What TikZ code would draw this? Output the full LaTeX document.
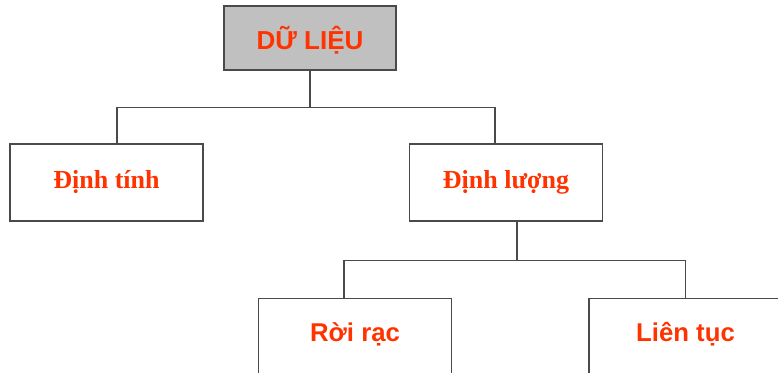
\documentclass[tikz,border=0pt]{standalone}
\usepackage{fontspec}
\setmainfont{Liberation Serif}
\setsansfont{Liberation Sans}
\usepackage{tikz}
\usetikzlibrary{positioning, calc}
\definecolor{textred}{HTML}{FF3300}
\definecolor{boxgray}{HTML}{C0C0C0}
\definecolor{linegray}{HTML}{4A4A4A}

\begin{document}
\begin{tikzpicture}[x=0.75pt, y=-0.75pt,
  box/.style={draw=linegray, line width=0.8pt, minimum width=144.75pt, minimum height=57.75pt,
    inner sep=0pt, text=textred},
  serifbox/.style={box, font=\bfseries\fontsize{19.5}{22}\selectfont, text height=14pt, text depth=5.6pt},
  sansbox/.style={box, font=\sffamily\bfseries\fontsize{19.3}{22}\selectfont, text height=14.5pt, text depth=8.5pt},
  link/.style={draw=linegray, line width=0.8pt}]
\useasboundingbox (0,0) rectangle (778,373);

% Root
\node[box, fill=boxgray, minimum width=129pt, minimum height=48pt,
  font=\sffamily\bfseries\fontsize{19.5}{22}\selectfont, text height=19pt, text depth=1pt] (dulieu) at (310,38) {DỮ LIỆU};

% Second level
\node[serifbox] (dinhtinh) at (106.5,182.5) {Định tính};
\node[serifbox] (dinhluong) at (506,182.5) {Định lượng};

% Third level (cut at the bottom edge)
\node[sansbox, anchor=north] (roirac) at (355,298) {Rời rạc};
\node[sansbox, anchor=north] (lientuc) at (685.5,298) {Liên tục};

% Connectors
\draw[link] (dulieu.south) -- ++(0,37) coordinate (bus1);
\draw[link] ($(dinhtinh.north)+(10.5,0)$) |- (bus1) -| ($(dinhluong.north)+(-11,0)$);
\draw[link] ($(dinhluong.south)+(11,0)$) -- ++(0,39) coordinate (bus2);
\draw[link] ($(roirac.north)+(-11,0)$) |- (bus2) -| (lientuc.north);
\end{tikzpicture}
\end{document}
